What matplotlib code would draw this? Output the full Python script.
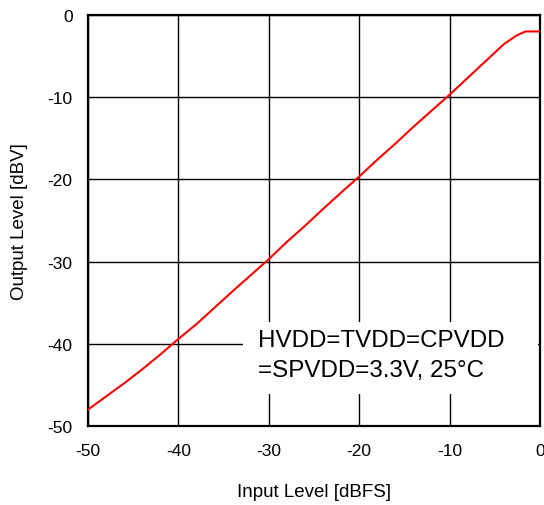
import matplotlib
matplotlib.use('Agg')
import matplotlib.pyplot as plt
from matplotlib.patches import Rectangle

plt.rcParams['font.family'] = ['Liberation Sans', 'DejaVu Sans']
plt.rcParams['axes.unicode_minus'] = False

# Output level vs input level
input_dbfs = [-50, -48, -46, -44, -42, -40, -38, -36, -34, -32, -30, -28, -26,
              -24, -22, -20, -18, -16, -14, -12, -10, -8, -6, -4, -2.6, -1.6, 0]
output_dbv = [-48, -46.4, -44.8, -43.1, -41.3, -39.4, -37.6, -35.6, -33.6, -31.65,
              -29.7, -27.6, -25.65, -23.6, -21.6, -19.65, -17.6, -15.65, -13.6,
              -11.65, -9.7, -7.65, -5.6, -3.55, -2.5, -2.0, -2.0]

x_ticks = [-50, -40, -30, -20, -10, 0]
y_ticks = [-50, -40, -30, -20, -10, 0]

note_lines = ['HVDD=TVDD=CPVDD', '=SPVDD=3.3V, 25°C']

fig = plt.figure(figsize=(5.44, 5.06), dpi=100)
ax = fig.add_axes([0.1618, 0.1561, 0.8308, 0.8123])

ax.plot(input_dbfs, output_dbv, color='red', lw=1.5, zorder=3)

ax.set_xlim(-50, 0)
ax.set_ylim(-50, 0)
ax.set_xticks(x_ticks)
ax.set_yticks(y_ticks)
ax.grid(True, color='black', lw=1)
ax.set_axisbelow(True)
ax.tick_params(axis='both', length=0, labelsize=12.5)
ax.tick_params(axis='x', pad=12)
ax.tick_params(axis='y', pad=11)
for sp in ax.spines.values():
    sp.set_linewidth(1.6)

ax.set_xlabel('Input Level [dBFS]', fontsize=13.5, labelpad=18)
ax.set_ylabel('Output Level [dBV]', fontsize=13.5, labelpad=14)

# white box hiding the grid behind the note
ax.add_patch(Rectangle((0.343, 0.078), 0.6526, 0.175, transform=ax.transAxes,
                       facecolor='white', edgecolor='none', zorder=1))
ax.text(0.376, 0.194, note_lines[0], transform=ax.transAxes, fontsize=17.4,
        va='baseline', ha='left', zorder=4)
ax.text(0.376, 0.121, note_lines[1], transform=ax.transAxes, fontsize=17.4,
        va='baseline', ha='left', zorder=4)

fig.savefig('out.png', dpi=100)
